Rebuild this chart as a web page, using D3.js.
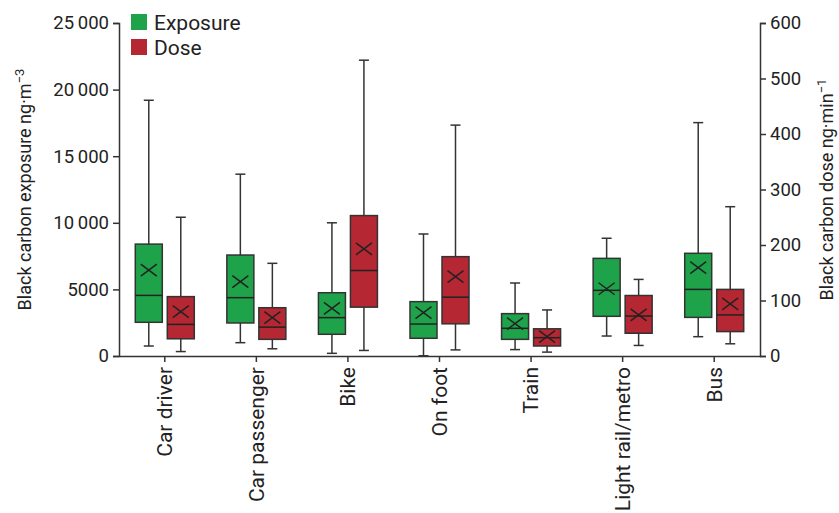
<!DOCTYPE html>
<html>
<head>
<meta charset="utf-8">
<script src="https://cdn.jsdelivr.net/npm/d3@7"></script>
<style>
  body { margin: 0; background: #fff; }
  svg text { font-family: Roboto, "DejaVu Sans", sans-serif; fill: #222; }
</style>
</head>
<body>
<div id="chart"></div>
<script>
var
  categories = ["Car driver", "Car passenger", "Bike", "On foot", "Train", "Light rail/metro", "Bus"],

  // exposure, ng·m-3: [whiskerLow, q1, median, q3, whiskerHigh, mean]
  exposure = [
    [750, 2530, 4550, 8400, 19200, 6450],
    [1000, 2480, 4380, 7580, 13650, 5580],
    [200, 1630, 2880, 4750, 10000, 3580],
    [20, 1330, 2400, 4080, 9160, 3250],
    [480, 1250, 2080, 3180, 5480, 2430],
    [1500, 2980, 4930, 7330, 8840, 5050],
    [1450, 2900, 5000, 7710, 17520, 6630]
  ],

  // dose, ng·min-1
  dose = [
    [8, 31, 57, 107, 250, 80],
    [13, 30, 52, 87, 167, 69],
    [10, 88, 154, 253, 533, 193],
    [11, 58, 106, 179, 416, 143],
    [7, 18, 33, 49, 83, 35],
    [19, 41, 72, 109, 138, 74],
    [22, 44, 74, 120, 269, 94]
  ],

  exposureTicks = [0, 5000, 10000, 15000, 20000, 25000],
  doseTicks = [0, 100, 200, 300, 400, 500, 600],

  WIDTH = 839,
  HEIGHT = 513,
  LEFT = 119,
  RIGHT = 760,
  TOP = 23,
  BOTTOM = 356,
  BOX_WIDTH = 27,
  BOX_OFFSET = 16,
  CAP_WIDTH = 10,
  CROSS_X = 8,
  CROSS_Y = 6,
  GREEN = "#1ea34a",
  RED = "#b52732",
  LINE = "#333";

var svg = d3.select("#chart").append("svg")
  .attr("width", WIDTH)
  .attr("height", HEIGHT);

var x = d3.scaleBand().domain(categories).range([LEFT, RIGHT]);
var yExp = d3.scaleLinear().domain([0, 25000]).range([BOTTOM, TOP]);
var yDose = d3.scaleLinear().domain([0, 600]).range([BOTTOM, TOP]);

function fmt(v){
  var s = String(v);
  return s.length > 4 ? s.slice(0, -3) + "\u2009" + s.slice(-3) : s;
}

function styleAxis(g, size){
  g.selectAll("path, line").attr("stroke", LINE).attr("stroke-width", 1.5);
  g.selectAll("text").style("font-size", size + "px").attr("fill", "#222");
}

// axes
var leftAxis = svg.append("g")
  .attr("transform", "translate(" + LEFT + ",0)")
  .call(d3.axisLeft(yExp).tickValues(exposureTicks).tickFormat(fmt).tickSize(6).tickSizeOuter(6).tickPadding(4));
styleAxis(leftAxis, 18.5);

var rightAxis = svg.append("g")
  .attr("transform", "translate(" + RIGHT + ",0)")
  .call(d3.axisRight(yDose).tickValues(doseTicks).tickSize(6).tickSizeOuter(6).tickPadding(4));
styleAxis(rightAxis, 18.5);

var bottomAxis = svg.append("g")
  .attr("transform", "translate(0," + BOTTOM + ")")
  .call(d3.axisBottom(x).tickSize(6).tickSizeOuter(0).tickPadding(8));
styleAxis(bottomAxis, 21);
bottomAxis.selectAll("text")
  .attr("transform", "rotate(-90)")
  .attr("text-anchor", "end")
  .attr("dy", "0.35em")
  .attr("x", -11)
  .attr("y", 0);

// axis titles
svg.append("text")
  .attr("transform", "translate(31," + ((TOP + BOTTOM) / 2) + ") rotate(-90)")
  .attr("text-anchor", "middle")
  .style("font-size", "18px")
  .html("Black carbon exposure ng\u00b7m<tspan dy='-7' font-size='13'>\u22123</tspan>");

svg.append("text")
  .attr("transform", "translate(833," + ((TOP + BOTTOM) / 2) + ") rotate(-90)")
  .attr("text-anchor", "middle")
  .style("font-size", "18px")
  .html("Black carbon dose ng\u00b7min<tspan dy='-7' font-size='13'>\u22121</tspan>");

function drawBox(d, i, scale, offset, color){
  var cx = x(categories[i]) + x.bandwidth() / 2 + offset,
    g = svg.append("g");

  g.append("line")
    .attr("x1", cx).attr("x2", cx)
    .attr("y1", scale(d[0])).attr("y2", scale(d[4]))
    .attr("stroke", LINE).attr("stroke-width", 1.5);

  [d[0], d[4]].forEach(function(v){
    g.append("line")
      .attr("x1", cx - CAP_WIDTH / 2).attr("x2", cx + CAP_WIDTH / 2)
      .attr("y1", scale(v)).attr("y2", scale(v))
      .attr("stroke", LINE).attr("stroke-width", 1.5);
  });

  g.append("rect")
    .attr("x", cx - BOX_WIDTH / 2)
    .attr("y", scale(d[3]))
    .attr("width", BOX_WIDTH)
    .attr("height", scale(d[1]) - scale(d[3]))
    .attr("fill", color)
    .attr("stroke", LINE)
    .attr("stroke-width", 1.5);

  g.append("line")
    .attr("x1", cx - BOX_WIDTH / 2).attr("x2", cx + BOX_WIDTH / 2)
    .attr("y1", scale(d[2])).attr("y2", scale(d[2]))
    .attr("stroke", "#222").attr("stroke-width", 1.5);

  var my = scale(d[5]);
  g.append("path")
    .attr("d", "M" + (cx - CROSS_X) + "," + (my - CROSS_Y) + "L" + (cx + CROSS_X) + "," + (my + CROSS_Y) +
      "M" + (cx - CROSS_X) + "," + (my + CROSS_Y) + "L" + (cx + CROSS_X) + "," + (my - CROSS_Y))
    .attr("stroke", "#222").attr("stroke-width", 1.5).attr("fill", "none");
}

exposure.forEach(function(d, i){ drawBox(d, i, yExp, -BOX_OFFSET, GREEN); });
dose.forEach(function(d, i){ drawBox(d, i, yDose, BOX_OFFSET, RED); });

// legend
var legend = svg.append("g").attr("transform", "translate(131,14)");
[["Exposure", GREEN], ["Dose", RED]].forEach(function(item, i){
  legend.append("rect")
    .attr("x", 0).attr("y", i * 25)
    .attr("width", 16).attr("height", 16)
    .attr("fill", item[1]);
  legend.append("text")
    .attr("x", 23).attr("y", i * 25 + 16)
    .style("font-size", "21px")
    .text(item[0]);
});
</script>
</body>
</html>
